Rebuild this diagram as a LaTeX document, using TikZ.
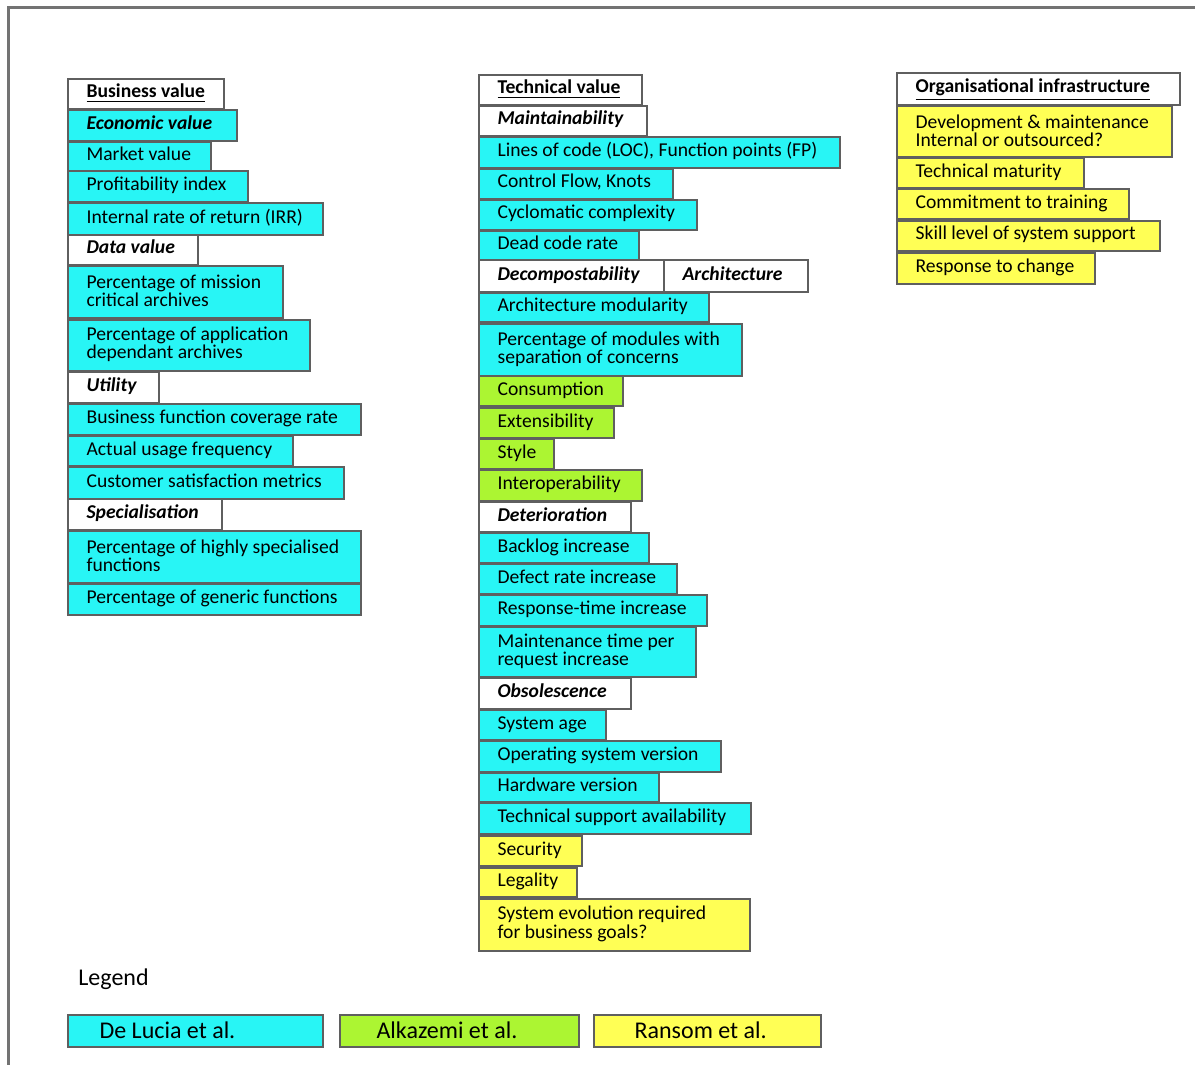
\documentclass[tikz,border=0pt]{standalone}
\usepackage{fontspec}
\setmainfont{Carlito}
\definecolor{lucia}{RGB}{40,245,245}
\definecolor{alkaz}{RGB}{172,245,50}
\definecolor{ransom}{RGB}{255,255,85}
\definecolor{rim}{RGB}{95,95,95}
\newcommand\tightlines{\lineskiplimit=-6pt\relax}

\begin{document}
\begin{tikzpicture}[x=0.5pt, y=-0.5pt,
    cell/.style={draw=rim, line width=0.6pt},
    blank/.style={cell, fill=white},
    dl/.style={cell, fill=lucia},
    ak/.style={cell, fill=alkaz},
    rs/.style={cell, fill=ransom},
    txt/.style={anchor=base west, inner sep=0pt, font=\fontsize{9.8}{8}\selectfont},
    two/.style={anchor=west, inner sep=0pt, align=left, font=\fontsize{9.8}{9.2}\selectfont\tightlines},
    topic/.style={txt, font=\fontsize{9.8}{8}\selectfont\bfseries},
    sub/.style={txt, font=\fontsize{9.8}{8}\selectfont\bfseries\itshape},
    leg/.style={anchor=base west, inner sep=0pt, font=\fontsize{12}{14}\selectfont}]
    \useasboundingbox (0,0) rectangle (1195,1065);

    % page frame (cut off right and bottom)
    \draw[color=black!55, line width=1.5pt] (8.5,1065) -- (8.5,7.5) -- (1195,7.5);

    % business value
    \draw[blank] (68,79) rectangle (224,109) node[topic] (bizval) at (86,98) {\underline{Business value}};
    \draw[dl] (68,110) rectangle (237,141) node[sub] (econ) at (86,129.5) {Economic value};
    \draw[dl] (68,142) rectangle (211,171) node[txt] (market) at (86,160.5) {Market value};
    \draw[dl] (68,171) rectangle (248,202) node[txt] (profit) at (86,190.5) {Profitability index};
    \draw[dl] (68,203) rectangle (323,235) node[txt] (irr) at (86,223) {Internal rate of return (IRR)};
    \draw[blank] (68,235) rectangle (198,265) node[sub] (dataval) at (86,254) {Data value};
    \draw[dl] (68,266) rectangle (283,318) node[two] (mission) at (86,291) {Percentage of mission\\critical archives};
    \draw[dl] (68,320) rectangle (310,371) node[two] (appdep) at (86,344.5) {Percentage of application\\dependant archives};
    \draw[blank] (68,372) rectangle (159,403) node[sub] (utility) at (86,391.5) {Utility};
    \draw[dl] (68,404) rectangle (361,435) node[txt] (coverage) at (86,423.5) {Business function coverage rate};
    \draw[dl] (68,436) rectangle (293,466) node[txt] (usage) at (86,455) {Actual usage frequency};
    \draw[dl] (68,467) rectangle (344,499) node[txt] (custsat) at (86,487) {Customer satisfaction metrics};
    \draw[blank] (68,499) rectangle (222,530) node[sub] (special) at (86,518.5) {Specialisation};
    \draw[dl] (68,531) rectangle (361,583) node[two] (hispec) at (86,556) {Percentage of highly specialised\\functions};
    \draw[dl] (68,584) rectangle (361,615) node[txt] (generic) at (86,603.5) {Percentage of generic functions};

    % technical value
    \draw[blank] (479,75) rectangle (642,105) node[topic] (techval) at (497,94) {\underline{Technical value}};
    \draw[blank] (479,106) rectangle (647,136) node[sub] (maint) at (497,125) {Maintainability};
    \draw[dl] (479,137) rectangle (840,168) node[txt] (loc) at (497,156.5) {Lines of code (LOC), Function points (FP)};
    \draw[dl] (479,169) rectangle (673,199) node[txt] (cflow) at (497,188) {Control Flow, Knots};
    \draw[dl] (479,200) rectangle (697,230) node[txt] (cyclo) at (497,219) {Cyclomatic complexity};
    \draw[dl] (479,231) rectangle (639,260) node[txt] (dead) at (497,249.5) {Dead code rate};
    \draw[blank] (479,260) rectangle (664,292) node[sub] (decomp) at (497,280) {Decompostability};
    \draw[blank] (664,260) rectangle (808,292) node[sub] (archi) at (682,280) {Architecture};
    \draw[dl] (479,293) rectangle (709,322) node[txt] (archmod) at (497,311.5) {Architecture modularity};
    \draw[dl] (479,324) rectangle (742,376) node[two] (sepcon) at (497,349) {Percentage of modules with\\separation of concerns};
    \draw[ak] (479,376) rectangle (623,406) node[txt] (consum) at (497,395) {Consumption};
    \draw[ak] (479,408) rectangle (614,438) node[txt] (extens) at (497,427) {Extensibility};
    \draw[ak] (479,439) rectangle (554,469) node[txt] (styl) at (497,458) {Style};
    \draw[ak] (479,470) rectangle (642,501) node[txt] (interop) at (497,489.5) {Interoperability};
    \draw[blank] (479,502) rectangle (631,532) node[sub] (deter) at (497,521) {Deterioration};
    \draw[dl] (479,533) rectangle (649,563) node[txt] (backlog) at (497,552) {Backlog increase};
    \draw[dl] (479,564) rectangle (677,594) node[txt] (defect) at (497,583) {Defect rate increase};
    \draw[dl] (479,595) rectangle (707,626) node[txt] (resptime) at (497,614.5) {Response-time increase};
    \draw[dl] (479,627) rectangle (696,677) node[two] (mtime) at (497,651) {Maintenance time per\\request increase};
    \draw[blank] (479,678) rectangle (631,709) node[sub] (obsol) at (497,697.5) {Obsolescence};
    \draw[dl] (479,710) rectangle (606,740) node[txt] (sysage) at (497,729) {System age};
    \draw[dl] (479,741) rectangle (721,772) node[txt] (osver) at (497,760.5) {Operating system version};
    \draw[dl] (479,773) rectangle (659,802) node[txt] (hwver) at (497,791.5) {Hardware version};
    \draw[dl] (479,803) rectangle (751,834) node[txt] (support) at (497,822.5) {Technical support availability};
    \draw[rs] (479,836) rectangle (582,866) node[txt] (secur) at (497,855) {Security};
    \draw[rs] (479,868) rectangle (577,897) node[txt] (legal) at (497,886.5) {Legality};
    \draw[rs] (479,899) rectangle (750,951) node[two] (evol) at (497,924) {System evolution required\\for business goals?};

    % organisational infrastructure
    \draw[blank] (897,73) rectangle (1180,105) node[topic] (orginf) at (915,93) {\underline{Organisational infrastructure}};
    \draw[rs] (897,106) rectangle (1172,157) node[two] (devmaint) at (915,130.5) {Development \& maintenance\\Internal or outsourced?};
    \draw[rs] (897,158) rectangle (1084,188) node[txt] (techmat) at (915,177) {Technical maturity};
    \draw[rs] (897,189) rectangle (1129,219) node[txt] (training) at (915,208) {Commitment to training};
    \draw[rs] (897,221) rectangle (1160,251) node[txt] (skill) at (915,240) {Skill level of system support};
    \draw[rs] (897,253) rectangle (1095,284) node[txt] (respch) at (915,272.5) {Response to change};

    % legend
    \node[leg] (legend) at (78,985) {Legend};
    \draw[dl] (68,1015) rectangle (323,1047) node[leg] (lucia) at (99,1038) {De Lucia et al.};
    \draw[ak] (340,1015) rectangle (579,1047) node[leg] (alkazemi) at (376,1038) {Alkazemi et al.};
    \draw[rs] (594,1015) rectangle (821,1047) node[leg] (ransom) at (634,1038) {Ransom et al.};

\end{tikzpicture}
\end{document}
